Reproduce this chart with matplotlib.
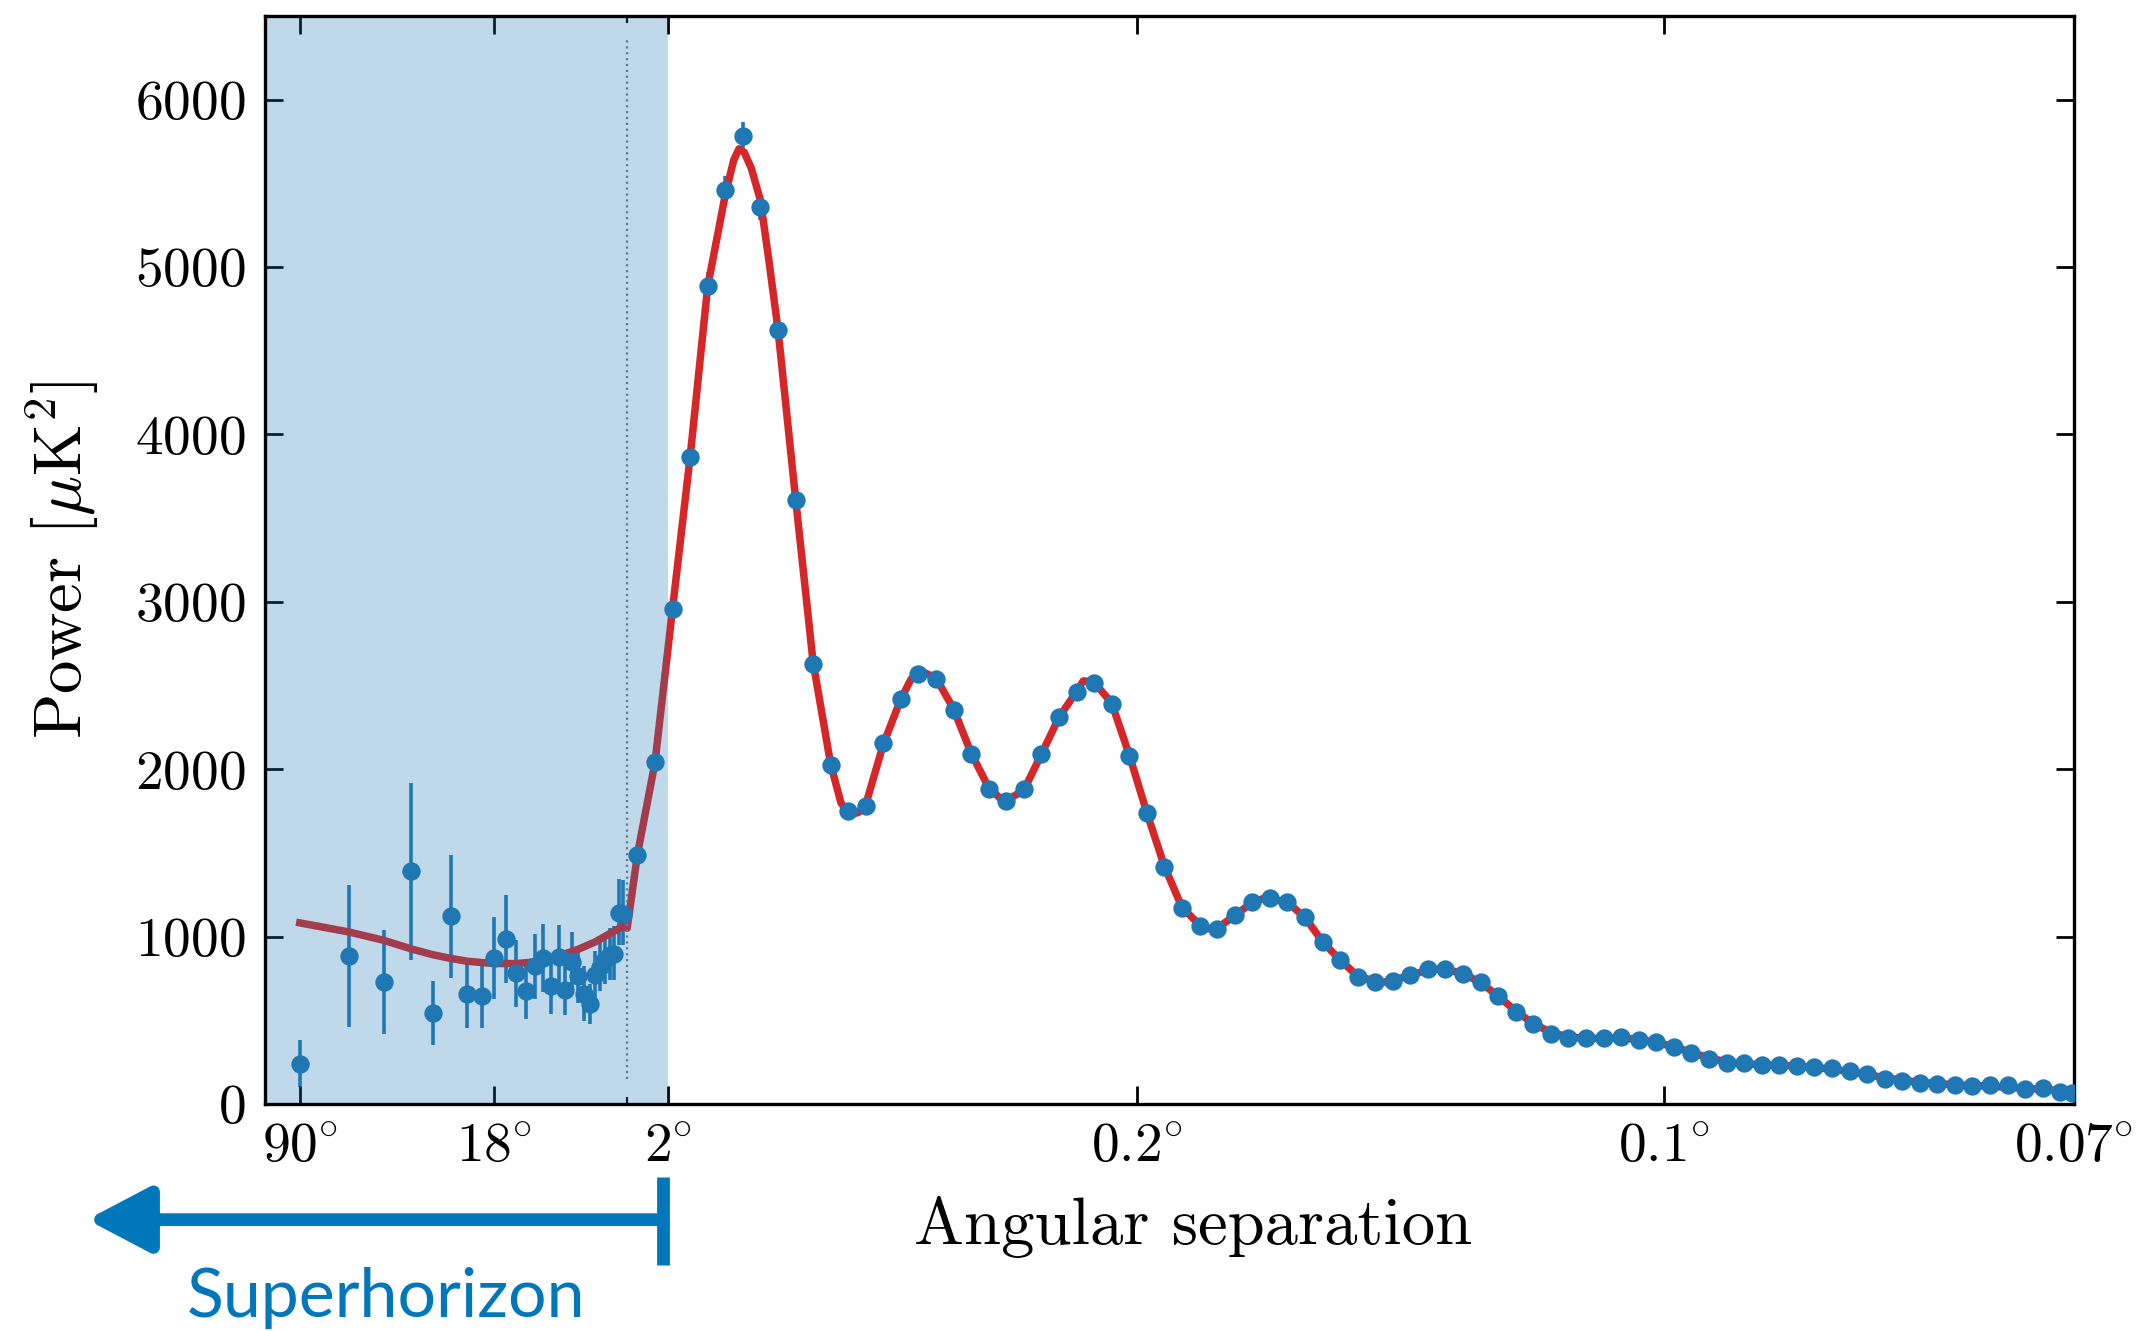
import numpy as np
import matplotlib
matplotlib.use("Agg")
import matplotlib.pyplot as plt
import matplotlib.transforms as mtransforms

plt.rcParams['font.family'] = 'serif'
plt.rcParams['font.serif'] = ['cmr10']
plt.rcParams['mathtext.fontset'] = 'cm'
plt.rcParams['axes.formatter.use_mathtext'] = True

# low multipoles (l = 2..29), asymmetric errors
ell_low = [2, 3, 4, 5, 6, 7, 8, 9, 10, 11, 12, 13, 14, 15, 16, 17, 18, 19,
           20, 21, 22, 23, 24, 25, 26, 27, 28, 29]
D_low = [241, 884, 727, 1392, 542, 1122, 655, 647, 873, 988, 785, 675, 823, 875,
         703, 878, 683, 850, 763, 659, 595, 771, 819, 864, 893, 898, 1144, 1138]
err_lo = [140, 424, 307, 533, 191, 367, 199, 191, 244, 265, 205, 167, 194, 203,
          163, 194, 153, 179, 160, 165, 115, 140, 145, 150, 155, 160, 193, 190]
err_hi = [139, 427, 311, 528, 191, 368, 199, 191, 245, 259, 197, 167, 195, 203,
          163, 194, 153, 179, 160, 165, 120, 145, 150, 155, 160, 165, 200, 198]

# binned high multipoles
ell_bin = [47.5, 77.5, 107.5, 137.5, 167.5, 197.5, 227.5, 257.5, 287.5, 317.5,
           347.5, 377.5, 407.5, 437.5, 467.5, 497.5, 527.5, 557.5, 587.5, 617.5,
           647.5, 677.5, 707.5, 737.5, 767.5, 797.5, 827.5, 857.5, 887.5, 917.5,
           947.5, 977.5, 1007.5, 1037.5, 1067.5, 1097.5, 1127.5, 1157.5, 1187.5, 1217.5,
           1247.5, 1277.5, 1307.5, 1337.5, 1367.5, 1397.5, 1427.5, 1457.5, 1487.5, 1517.5,
           1547.5, 1577.5, 1607.5, 1637.5, 1667.5, 1697.5, 1727.5, 1757.5, 1787.5, 1817.5,
           1847.5, 1877.5, 1907.5, 1937.5, 1967.5, 1997.5, 2027.5, 2057.5, 2087.5, 2117.5,
           2147.5, 2177.5, 2207.5, 2237.5, 2267.5, 2297.5, 2327.5, 2357.5, 2387.5, 2417.5,
           2447.5, 2477.5, 2497]
D_bin = [1489, 2041, 2960, 3866, 4884, 5460, 5782, 5361, 4623, 3606,
         2628, 2027, 1749, 1783, 2157, 2417, 2570, 2538, 2355, 2091,
         1882, 1813, 1880, 2091, 2314, 2463, 2518, 2389, 2081, 1739,
         1415, 1173, 1061, 1044, 1131, 1209, 1232, 1204, 1117, 966,
         863, 759, 729, 735, 773, 805, 807, 775, 727, 646,
         549, 475, 421, 396, 392, 392, 400, 382, 372, 342,
         306, 270, 246, 242, 234, 234, 228, 219, 215, 195,
         177, 151, 139, 123, 117, 113, 105, 111, 111, 87,
         97, 73, 64]
err_bin = [45, 50, 60, 70, 85, 87, 86, 79, 70, 60,
           48, 40, 35, 33, 35, 38, 40, 40, 38, 35,
           32, 30, 30, 32, 34, 35, 35, 34, 31, 28,
           25, 22, 20, 20, 21, 22, 22, 22, 21, 19,
           17, 16, 15, 15, 16, 16, 16, 16, 15, 14,
           13, 12, 11, 11, 11, 11, 11, 11, 11, 10,
           10, 9, 9, 9, 9, 9, 9, 9, 9, 9,
           9, 9, 9, 9, 10, 10, 10, 10, 11, 11,
           12, 12, 13]

# best-fit model curve
ell_th = [2, 3, 4, 5, 6, 7, 8, 9, 10, 12, 14, 16, 18, 20, 23, 26, 29, 30,
          47.5, 77.5, 107.5, 137.5, 167.5, 197.5, 212, 221, 230, 242, 257.5, 272,
          287.5, 317.5, 347.5, 377.5, 395, 410, 425, 437.5, 467.5, 497.5, 515, 533,
          557.5, 587.5, 617.5, 647.5, 673.5, 707.5, 737.5, 767.5, 797.5, 809, 827.5,
          857.5, 887.5, 917.5, 947.5, 977.5, 1007.5, 1025, 1037.5, 1067.5, 1097.5, 1120,
          1157.5, 1187.5, 1217.5, 1247.5, 1277.5, 1307.5, 1322, 1337.5, 1367.5, 1397.5,
          1415, 1427.5, 1457.5, 1487.5, 1517.5, 1547.5, 1577.5, 1607.5, 1637.5, 1667.5,
          1697.5, 1727.5, 1757.5, 1787.5, 1817.5, 1847.5, 1877.5, 1907.5, 1937.5, 1967.5,
          1997.5, 2027.5, 2057.5, 2087.5, 2117.5, 2147.5, 2177.5, 2207.5, 2237.5, 2267.5,
          2297.5, 2327.5, 2357.5, 2387.5, 2417.5, 2447.5, 2477.5, 2500]
D_th = [1082, 1028, 978, 928, 892, 869, 853, 845, 839, 839, 849, 869, 898, 924, 968, 1018, 1062, 1050,
        1490, 2040, 2960, 3866, 4884, 5432, 5640, 5707, 5685, 5590, 5400, 5040,
        4630, 3620, 2640, 2030, 1800, 1727, 1742, 1790, 2150, 2420, 2540, 2584,
        2545, 2360, 2095, 1890, 1805, 1875, 2090, 2310, 2465, 2528, 2520,
        2395, 2085, 1740, 1420, 1175, 1070, 1045, 1050, 1125, 1205, 1232,
        1205, 1115, 970, 860, 765, 733, 728, 738, 770, 800,
        806, 805, 780, 725, 645, 555, 480, 428, 400, 392,
        392, 395, 385, 368, 342, 308, 275, 252, 240, 235,
        232, 226, 218, 208, 194, 176, 157, 142, 130, 121,
        115, 110, 106, 100, 94, 87, 80, 74]

tick_ell = [2, 10, 100, 900, 1800, 2500]
tick_labels = [r'$90\!^\circ$', r'$18\!^\circ$', r'$2\!^\circ$', r'$0.2\!^\circ$',
               r'$0.1\!^\circ$', r'$0.07\!^\circ$']

# hybrid axis: log below l=30, linear above
K = 475.4


def fwd(l):
    l = np.asarray(l, dtype=float)
    return np.where(l <= 30, 30 + K * np.log10(np.maximum(l, 1e-6) / 30), l)


def inv(t):
    t = np.asarray(t, dtype=float)
    return np.where(t <= 30, 30 * 10 ** ((np.minimum(t, 30) - 30) / K), t)


fig = plt.figure(figsize=(2153 / 200, 1331 / 200), dpi=200)
ax = fig.add_axes([265 / 2153, 1 - 1104 / 1331, 1808.5 / 2153, 1088 / 1331])
ax.set_xscale('function', functions=(fwd, inv))

blue = '#1f77b4'
red = '#d62728'

ax.plot(ell_th, D_th, color=red, lw=2.7, zorder=2, solid_joinstyle='round')
ax.axvspan(1.5, 100, color=blue, alpha=0.28, lw=0, zorder=2.5)
ax.vlines(30, 150, 6370, colors='#7f7f7f', linestyles=':', lw=0.8, zorder=2.4)

ax.errorbar(ell_low, D_low, yerr=[err_lo, err_hi], fmt='none', ecolor=blue,
            elinewidth=1.3, zorder=1.5)
ax.errorbar(ell_bin, D_bin, yerr=err_bin, fmt='none', ecolor=blue,
            elinewidth=1.3, zorder=1.5)
ax.plot(ell_low, D_low, 'o', color=blue, ms=5.6, zorder=3)
ax.plot(ell_bin, D_bin, 'o', color=blue, ms=5.6, zorder=3)

ax.set_xlim(1.5, 2500)
ax.set_ylim(0, 6500)
ax.set_xticks(tick_ell)
ax.set_xticklabels(tick_labels)
ax.set_xticks([30], minor=True)
ax.set_yticks([0, 1000, 2000, 3000, 4000, 5000, 6000])
ax.tick_params(which='major', direction='in', top=True, right=True, length=6.5,
               width=1.0, labelsize=20, pad=7)
ax.tick_params(which='minor', direction='in', top=True, right=True, length=2.5,
               width=0.8)
for s in ax.spines.values():
    s.set_linewidth(1.2)

ax.set_xlabel('Angular separation', fontsize=24, labelpad=8)
ax.xaxis.set_label_coords(0.513, -0.085)
ax.set_ylabel(r'Power $[\mu\mathrm{K}^2]$', fontsize=24, labelpad=12)

# superhorizon arrow below the axis
trans = mtransforms.blended_transform_factory(ax.transData, ax.transAxes)
ax.annotate('', xy=(-0.0984, -0.1063), xycoords='axes fraction',
            xytext=(92, -0.1063), textcoords=trans, annotation_clip=False,
            arrowprops=dict(arrowstyle='-|>,head_length=0.95,head_width=0.5',
                            mutation_scale=20, lw=4.6, color='#0077bb',
                            shrinkA=0, shrinkB=0))
ax.plot([92, 92], [-0.0668, -0.148], transform=trans, color='#0077bb', lw=4.6,
        solid_capstyle='butt', clip_on=False)
ax.text(0.0669, -0.178, 'Superhorizon', transform=ax.transAxes, color='#0077bb',
        fontsize=24.5, family='Lato', ha='center', va='center')

fig.savefig('out.png', dpi=200)
